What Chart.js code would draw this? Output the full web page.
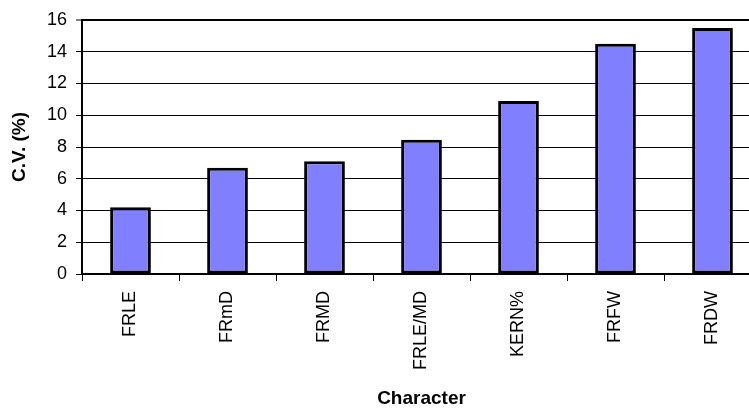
<!DOCTYPE html>
<html>
<head>
<meta charset="utf-8">
<script src="https://cdn.jsdelivr.net/npm/chart.js@4/dist/chart.umd.min.js"></script>
<style>
  html, body { margin: 0; padding: 0; background: #fff; overflow: hidden; }
  #wrap { width: 749px; height: 408px; overflow: hidden; }
  canvas { display: block; }
</style>
</head>
<body>
<div id="wrap"><canvas id="chart" width="770" height="408"></canvas></div>
<script>
const CATEGORIES = ['FRLE', 'FRmD', 'FRMD', 'FRLE/MD', 'KERN%', 'FRFW', 'FRDW'];
const CV_VALUES  = [4.2, 6.7, 7.1, 8.45, 10.9, 14.5, 15.5];
const Y_MIN = 0, Y_MAX = 16, Y_STEP = 2;

const FONT = "'Liberation Sans', Arial, sans-serif";

new Chart(document.getElementById('chart'), {
  type: 'bar',
  data: {
    labels: CATEGORIES,
    datasets: [{
      data: CV_VALUES,
      backgroundColor: '#8080ff',
      borderColor: '#000',
      borderWidth: 3,
      borderSkipped: false,
      barPercentage: 0.42,
      categoryPercentage: 1
    }]
  },
  options: {
    responsive: false,
    animation: false,
    layout: { padding: { top: 20, right: 9, left: 0, bottom: 0 } },
    plugins: { legend: { display: false }, tooltip: { enabled: false } },
    scales: {
      x: {
        offset: true,
        grid: {
          offset: true,
          drawOnChartArea: false,
          drawTicks: true,
          tickLength: 7,
          tickColor: '#000',
          tickWidth: 1
        },
        border: { color: '#000', width: 2 },
        ticks: {
          color: '#000',
          font: { family: FONT, size: 18 },
          minRotation: 90,
          maxRotation: 90,
          padding: 10,
          autoSkip: false
        },
        title: {
          display: true,
          text: 'Character',
          color: '#000',
          font: { family: FONT, size: 19, weight: 'bold' },
          padding: { top: 0, bottom: -2 }
        },
        afterFit: (s) => { s.height = 134; }
      },
      y: {
        min: Y_MIN,
        max: Y_MAX,
        ticks: {
          stepSize: Y_STEP,
          color: '#000',
          font: { family: FONT, size: 18 },
          padding: 9
        },
        grid: {
          color: '#000',
          lineWidth: (c) => (c.tick && c.tick.value === Y_MAX ? 2 : 1),
          tickLength: 6,
          tickColor: '#000',
          tickWidth: 1
        },
        border: { color: '#000', width: 2 },
        title: {
          display: true,
          text: 'C.V. (%)',
          color: '#000',
          font: { family: FONT, size: 19, weight: 'bold' },
          padding: { top: 8, bottom: 0 }
        },
        afterFit: (s) => { s.width = 82; }
      }
    }
  }
});
</script>
</body>
</html>
